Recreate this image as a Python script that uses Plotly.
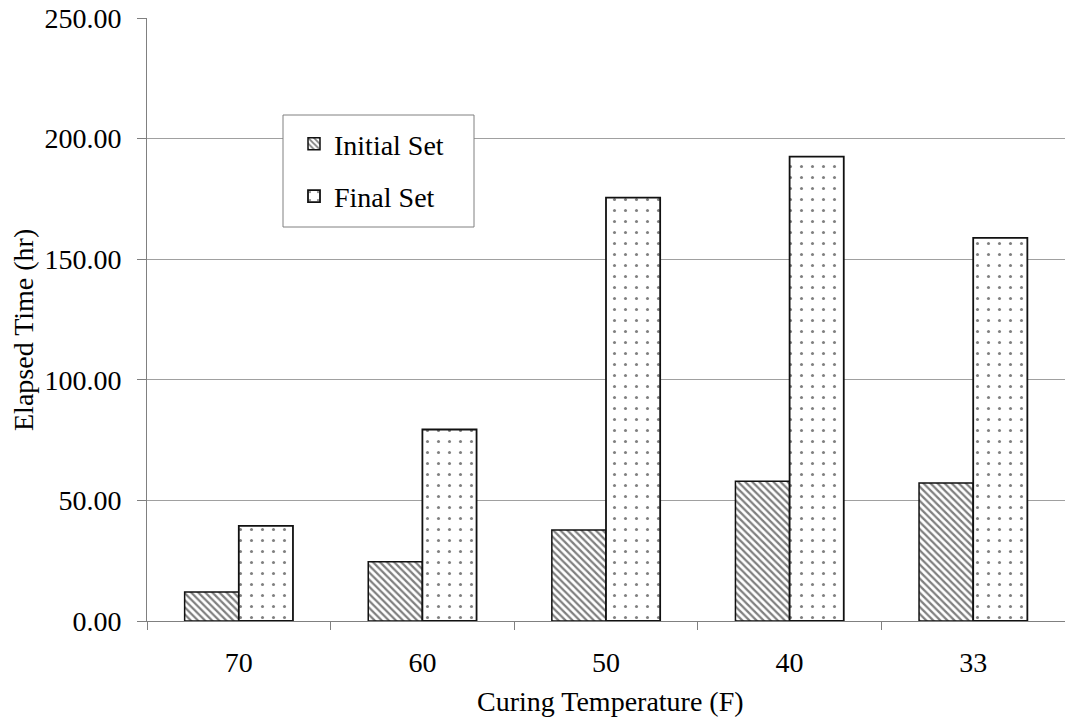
import plotly.graph_objects as go

# Setting times by curing temperature
temperatures = ["70", "60", "50", "40", "33"]
initial_set = [12.0, 24.6, 37.7, 57.9, 57.2]
final_set = [39.4, 79.4, 175.5, 192.5, 158.8]
y_ticks = [0, 50, 100, 150, 200, 250]
y_tick_text = ["0.00", "50.00", "100.00", "150.00", "200.00", "250.00"]

W, H = 1065, 727
L, R, T, B = 147, 0, 18, 106
FONT = "Liberation Serif"
GRID = "#a0a0a0"

fig = go.Figure()
fig.add_trace(go.Bar(
    x=temperatures, y=initial_set, name="Initial Set", legendgroup="a",
    marker=dict(color="white",
                line=dict(color="#111111", width=1.5),
                pattern=dict(shape="\\", size=5, solidity=0.45,
                             fgcolor="black", bgcolor="white")),
))
fig.add_trace(go.Bar(
    x=temperatures, y=final_set, name="Final Set", legendgroup="b",
    marker=dict(color="white",
                line=dict(color="#111111", width=1.8),
                pattern=dict(shape=".", size=11, solidity=0.06,
                             fgcolor="black", bgcolor="white")),
))

pw = W - L - R
ph = H - T - B


def px_x(x):
    return (x - L) / pw


def px_y(y):
    return 1 - (y - T) / ph


# legend frame
fig.add_shape(type="rect", xref="paper", yref="paper",
              x0=px_x(283), x1=px_x(474), y0=px_y(227), y1=px_y(115),
              line=dict(color="#808080", width=1), fillcolor="white", layer="above")

fig.update_layout(
    width=W, height=H,
    margin=dict(l=L, r=R, t=T, b=B),
    paper_bgcolor="white", plot_bgcolor="white",
    font=dict(family=FONT, size=28, color="black"),
    barmode="group", bargap=0.41, bargroupgap=0,
    showlegend=True,
    legend=dict(x=px_x(294), y=px_y(119), xanchor="left", yanchor="top",
                bgcolor="rgba(0,0,0,0)", borderwidth=0,
                traceorder="grouped", tracegroupgap=13,
                font=dict(family=FONT, size=28, color="black")),
    xaxis=dict(
        type="category", showgrid=False, tickson="boundaries",
        ticks="outside", ticklen=8, tickcolor="#808080",
        showline=True, linecolor="#808080", linewidth=1,
        tickfont=dict(size=28), ticklabelstandoff=16,
    ),
    yaxis=dict(
        range=[0, 250], tickvals=y_ticks, ticktext=y_tick_text,
        showgrid=True, gridcolor=GRID, gridwidth=1,
        ticks="outside", ticklen=9, tickcolor="#808080",
        showline=True, linecolor="#808080", linewidth=1,
        zeroline=False, tickfont=dict(size=28), ticklabelstandoff=10,
    ),
    annotations=[
        dict(text="Curing Temperature (F)", xref="paper", yref="paper",
             x=px_x(610), y=px_y(701), xanchor="center", yanchor="middle",
             showarrow=False, font=dict(size=28)),
        dict(text="Elapsed Time (hr)", xref="paper", yref="paper",
             x=px_x(23), y=px_y(330), xanchor="center", yanchor="middle",
             textangle=-90, showarrow=False, font=dict(size=28)),
    ],
)

fig.write_html("out.html")
